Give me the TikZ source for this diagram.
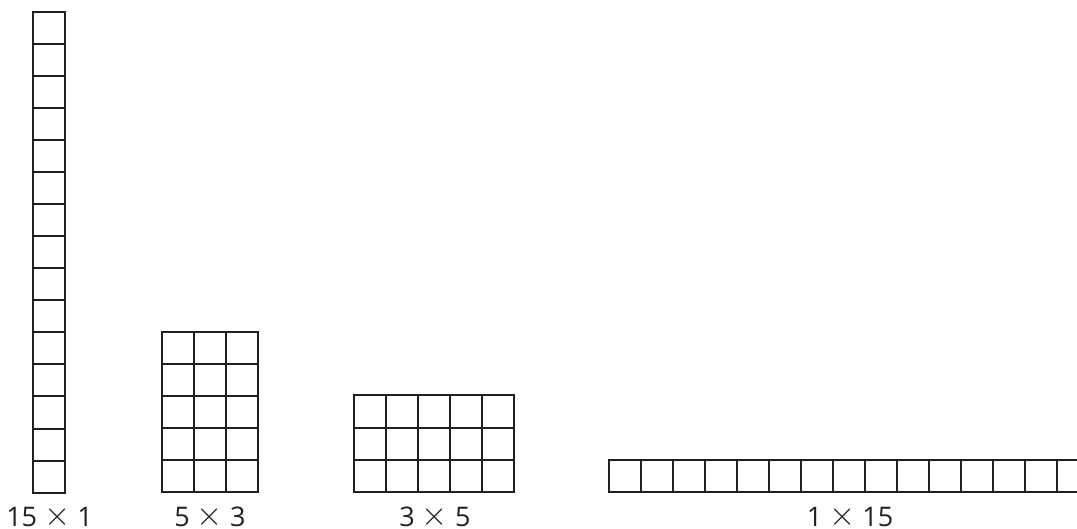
\documentclass[tikz,border=0pt]{standalone}
\usepackage{fontspec}
\setmainfont{Open Sans}
\definecolor{ink}{HTML}{231F20}
\newcommand{\tms}{ \raisebox{0.5pt}{\scalebox{1.35}{$\times$}} }
\begin{document}
\begin{tikzpicture}[x=1pt,y=-1pt,
  cell/.style={draw=ink,line width=2pt},
  lbl/.style={anchor=base,inner sep=0pt,text=ink,font=\fontsize{27}{30}\selectfont}]
\useasboundingbox (0,0) rectangle (1077,529);
\clip (0,0) rectangle (1077,529);
% 15 x 1 column
\foreach \i in {0,...,14} \draw[cell] (33,12.5+32*\i) rectangle ++(32,32);
% 5 x 3
\foreach \i in {0,...,4} \foreach \j in {0,...,2} \draw[cell] (162.3+32*\j,332.3+32*\i) rectangle ++(32,32);
% 3 x 5
\foreach \i in {0,...,2} \foreach \j in {0,...,4} \draw[cell] (354+32*\j,395.5+32*\i) rectangle ++(32,32);
% 1 x 15
\foreach \j in {0,...,14} \draw[cell] (608.7+32*\j,460.3) rectangle ++(32,32);
% labels
\node[lbl] (l1) at (49.5,526) {15\tms 1};
\node[lbl] (l2) at (210,526) {5\tms 3};
\node[lbl] (l3) at (435,526) {3\tms 5};
\node[lbl] (l4) at (850,526) {1\tms 15};
\end{tikzpicture}
\end{document}
